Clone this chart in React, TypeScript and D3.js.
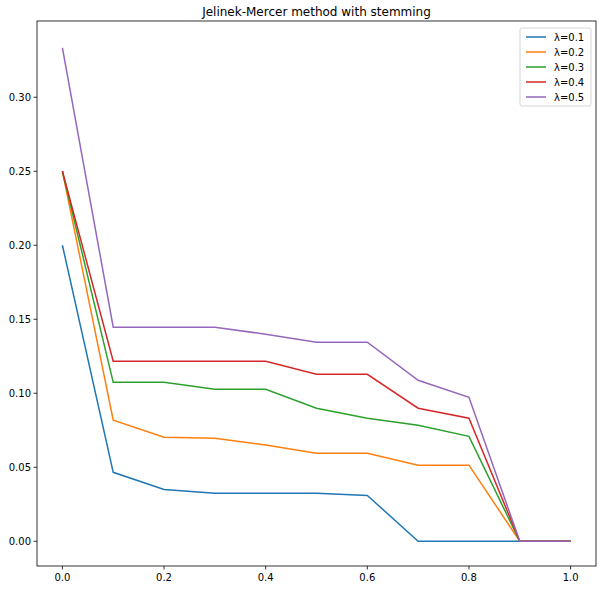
import * as d3 from "d3";

const xs = [0, 0.1, 0.2, 0.3, 0.4, 0.5, 0.6, 0.7, 0.8, 0.9, 1.0];
const labels = ["λ=0.1", "λ=0.2", "λ=0.3", "λ=0.4", "λ=0.5"];
const colors = ["#1f77b4", "#ff7f0e", "#2ca02c", "#d62728", "#9467bd"];
const lam1 = [0.2, 0.0466, 0.035, 0.0324, 0.0324, 0.0324, 0.031, 0, 0, 0, 0];
const lam2 = [0.25, 0.0818, 0.0703, 0.0696, 0.065, 0.0595, 0.0595, 0.0514, 0.0514, 0, 0];
const lam3 = [0.25, 0.1074, 0.1074, 0.1027, 0.1027, 0.0899, 0.0831, 0.0784, 0.0709, 0, 0];
const lam4 = [0.25, 0.1216, 0.1216, 0.1216, 0.1216, 0.1128, 0.1128, 0.0899, 0.0831, 0, 0];
const lam5 = [0.3333, 0.1446, 0.1446, 0.1446, 0.1399, 0.1345, 0.1345, 0.1088, 0.0973, 0, 0];
const series = [lam1, lam2, lam3, lam4, lam5];
const xTicks = [0, 0.2, 0.4, 0.6, 0.8, 1.0];
const yTicks = [0, 0.05, 0.1, 0.15, 0.2, 0.25, 0.3];

export default function App() {
  const left = 37, right = 596, top = 21, bottom = 566;
  const x = d3.scaleLinear().domain([-0.05, 1.05]).range([left, right]);
  const y = d3.scaleLinear().domain([-0.0167, 0.3515]).range([bottom, top]);
  const line = d3.line<number>().x((_, i) => x(xs[i])).y((d) => y(d));

  return (
    <svg width={601} height={590} style={{ position: "absolute", left: 0, top: 0, fontFamily: "DejaVu Sans" }}>
      <rect width={601} height={590} fill="#fff" />
      <text x={(left + right) / 2} y={16} textAnchor="middle" fontSize={12}>
        Jelinek-Mercer method with stemming
      </text>
      {series.map((s, i) => (
        <path key={i} d={line(s) ?? ""} fill="none" stroke={colors[i]} strokeWidth={1.5} />
      ))}
      <rect x={left} y={top} width={right - left} height={bottom - top} fill="none" stroke="#000" strokeWidth={0.8} />
      {xTicks.map((t) => (
        <g key={t}>
          <line x1={x(t)} x2={x(t)} y1={bottom} y2={bottom + 3.5} stroke="#000" strokeWidth={0.8} />
          <text x={x(t)} y={bottom + 15} textAnchor="middle" fontSize={10}>{t.toFixed(1)}</text>
        </g>
      ))}
      {yTicks.map((t) => (
        <g key={t}>
          <line x1={left - 3.5} x2={left} y1={y(t)} y2={y(t)} stroke="#000" strokeWidth={0.8} />
          <text x={left - 6} y={y(t) + 3.5} textAnchor="end" fontSize={10}>{t.toFixed(2)}</text>
        </g>
      ))}
      <rect x={520} y={28} width={71} height={78} rx={2} fill="#fff" stroke="#ccc" strokeWidth={0.8} />
      {labels.map((l, i) => (
        <g key={l}>
          <line x1={526} x2={546} y1={37 + i * 15} y2={37 + i * 15} stroke={colors[i]} strokeWidth={1.5} />
          <text x={554} y={41 + i * 15} fontSize={10}>{l}</text>
        </g>
      ))}
    </svg>
  );
}
